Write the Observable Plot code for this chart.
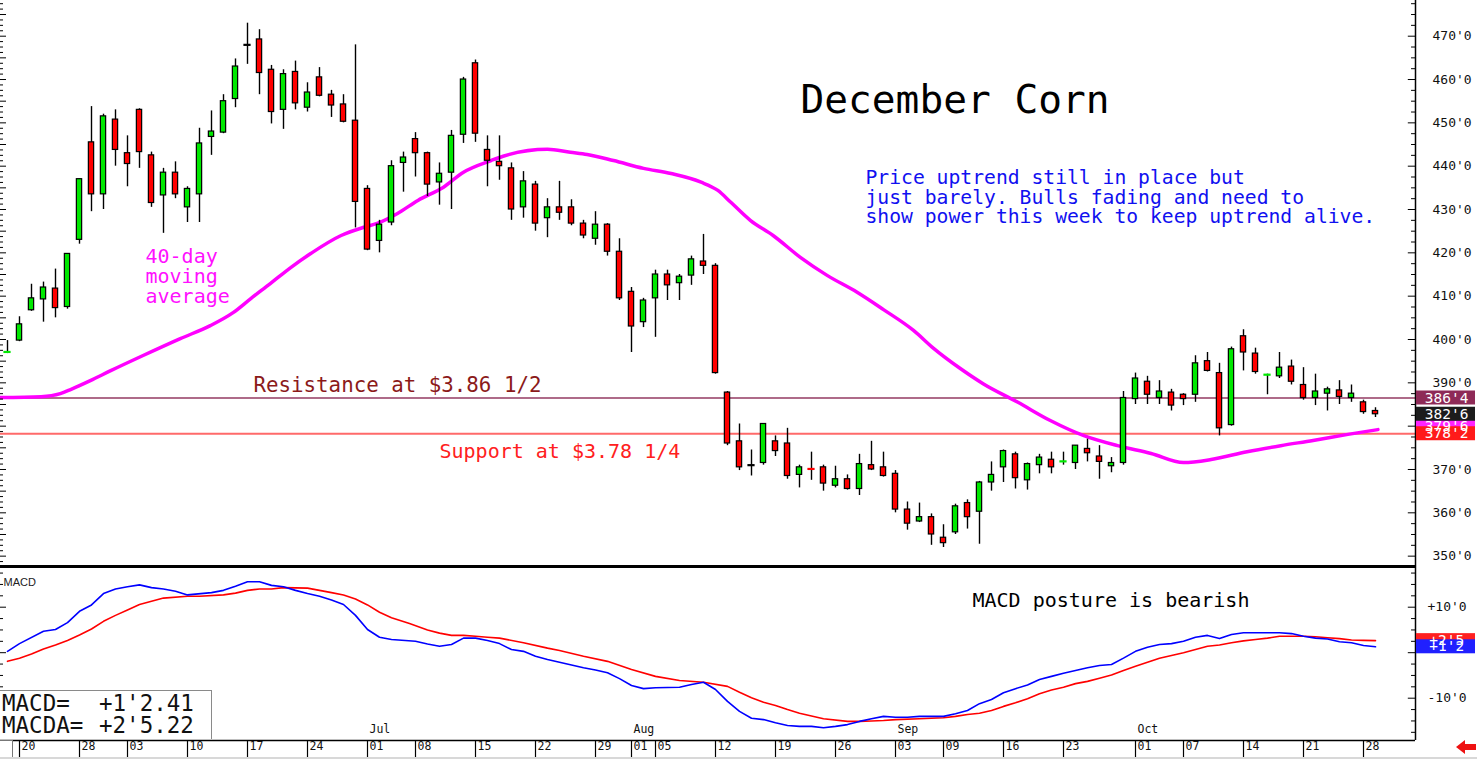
<!DOCTYPE html>
<html><head><meta charset="utf-8">
<script src="https://cdn.jsdelivr.net/npm/d3@7"></script>
<script src="https://cdn.jsdelivr.net/npm/@observablehq/plot@0.6"></script>
<style>
html,body{margin:0;padding:0;background:#fff;}
#wrap{position:relative;width:1477px;height:759px;overflow:hidden;background:#fff;}
#price{position:absolute;left:0;top:0;}
#macd{position:absolute;left:0;top:566px;}
.mbox{position:absolute;left:0;top:690px;width:211px;height:48px;border-top:1px solid #8a8a8a;border-right:1px solid #8a8a8a;background:#fff;font-family:"DejaVu Sans Mono",monospace;font-size:22.5px;line-height:22px;color:#111;}
.mbox span{position:absolute;white-space:pre;}
.sbox{position:absolute;left:0;top:740px;width:12px;height:16px;border:1px solid #777;border-left:none;background:#fff;}
.gline{position:absolute;left:0;top:757px;width:1477px;height:2px;background:#d8d8d8;}
.arrow{position:absolute;left:1456px;top:740px;width:20px;height:14px;}
.arrow .tri{position:absolute;left:0;top:0;width:0;height:0;border-top:7px solid transparent;border-bottom:7px solid transparent;border-right:9px solid #ee1111;}
.arrow .bar{position:absolute;left:8px;top:4px;width:12px;height:6px;background:#ee1111;}
</style></head>
<body>
<div id="wrap">
  <div id="price"></div>
  <div id="macd"></div>
  <div class="mbox"><span style="left:2px;top:1px">MACD=</span><span style="left:99px;top:1px">+1'2.41</span><span style="left:2px;top:23px">MACDA=</span><span style="left:99px;top:23px">+2'5.22</span></div>
  <div class="sbox"></div>
  <div class="gline"></div>
  <div class="arrow"><div class="tri"></div><div class="bar"></div></div>
</div>
<script>
// ---------- DATA (trading-day index 0 = May 17 ... 114 = Oct 29) ----------
const opens  = [397,399.75,406.75,409.25,411.75,407.5,423,445.5,433.5,450.75,443,453,442.5,433.25,438.5,430.5,433.5,446.75,447.75,455.5,468,469.25,462.25,453,461.75,453.5,460.5,456.5,454.25,450.5,434.75,422.75,427,440.75,446.25,443,436.25,438.5,447.25,463.75,443.75,441,439.5,430.5,435.75,428,430.5,430.5,426.75,423.25,426.5,420.25,411,404,409.5,415,413,414.75,418,417,387.75,376.5,371,371.5,376.5,376,368.75,370.25,370.5,366.25,367.75,365.5,371,370.5,369,360.75,358,359,354.25,355.5,362.25,360.25,367,370.5,373.5,367.5,371,372.25,371.75,371.5,374.75,373,370.75,371.5,386.25,390.25,386.5,387.75,387.25,387.25,395,392.25,380.25,400.75,396.75,391.75,391.5,393.75,389.5,386.5,387.5,388.25,386.5,385.5,383.5];
const highs  = [399.75,405.25,412.75,413.25,416.25,419.75,437,453.75,452,453,447,453.25,443.25,439.5,441,435.25,448.75,452.75,456.5,464.75,473,471.5,463.25,462.25,464.25,459.25,462.75,457.5,456.5,468,435.5,427.5,441.25,443.25,447.75,443.25,440.75,448.25,460.5,464.5,447,447,440.75,438.75,436.5,432.5,436.5,432.25,427.5,429.5,426.75,423.25,412,409.5,416,416,415,419.25,424.25,417.5,388,380.5,374.5,380.5,377.75,379.5,371,374,371,370.75,368.75,373.5,376.5,374,369.75,362.5,362.25,359.75,357.25,362,363,367.25,371.75,374.5,374,371.5,373.5,374,374,375.5,377,375.5,372.75,388,392.25,391.5,390.5,388.5,387.5,396.25,397,394.5,398.25,402.25,398,392,397,395.25,393.5,392,389,390.5,389.5,386,384.25];
const lows   = [396.75,399.5,406.5,404,405,407,422,429.5,430,440,435.25,439.5,430.5,424.5,432.5,427,427,442.5,447.5,453.5,463.5,456.5,449.75,448.5,453,452.5,456,451.25,450,425.75,420.5,420,426.25,434,437.5,433,431,430,445.25,445.5,435.25,436.75,427.5,428,425,423.5,427.5,426.25,423.25,421.75,419.25,409,397,402.75,400.5,409,409,412.5,415,392,375.5,369.75,368.5,371,373,367.75,365.75,367.5,365,365.75,365.25,364,369.75,368.25,360,356,357.75,352.5,352,355,356.25,352.75,365,367,365.5,365.25,369,369,371,370,371.75,367.75,369.25,371,385,385,385,383.5,384.75,385.5,392.5,377.75,380,392.75,392,387.25,391,389.5,386,384.75,383.5,385,385.5,382.75,382];
const closes = [397.25,403.5,409.5,412,407.25,419.75,437,433.5,451.5,443.75,440.5,443.25,431.5,438.5,433.5,434.75,445.25,448,455,463,468,461.5,452.5,461.25,454.5,457,456.25,454,450.25,431.75,420.75,426.5,440,442,443,435.75,438.25,447,460,447.5,441.25,440,430,436.5,426.75,430.5,429.25,426.75,424,426.5,420.25,409.5,403,409,415,412.5,414.5,418.5,417,392.25,376,370.5,371,380.5,374.25,368.5,370.5,370,366.75,367.75,365.5,371.25,370,368.5,360.75,357.5,359,355,353,361.5,359,367,368.75,374.25,368,371.25,372.75,370.5,372,375.5,373.75,371.75,371.5,386.5,391,387.25,388,384.75,386.25,394.5,392.75,379.5,397.75,397,392.5,392,393.5,390.25,386.5,388,388.5,386.75,387.5,383.25,382.75];

// 40-day moving average, read as [index, price]
const ma40 = [[-0.6,386.6],[2.8,386.8],[4.4,387.5],[5.3,388.5],[6.9,390.5],[8.6,392.8],[11.3,396.3],[14.4,400.2],[16.9,403.2],[18.8,406.2],[20.3,409.5],[21.9,412.9],[23.6,416.6],[25.3,419.9],[27.8,424],[29.7,425.9],[30.8,426.8],[32.5,429.1],[34.2,432.1],[36.3,435.1],[38,438.6],[40.3,441.3],[41.3,442.3],[45,443.9],[46.9,443.2],[48.3,442.7],[50.5,441.3],[53,439.5],[55.3,438.3],[57.8,436.3],[59.2,434.4],[60.3,431.6],[61.9,427.5],[63.8,424],[66.1,418.9],[68.3,414.8],[70.8,410.9],[73,406.9],[75.5,402.1],[77.2,397.9],[79.4,393.3],[81.3,389.8],[84.2,385.5],[86.9,381.3],[89.7,377.8],[92.5,375.5],[95.3,373.7],[98,371.6],[100.3,372.3],[103.3,374.1],[106.1,375.5],[108.8,376.7],[111.7,378.1],[114.2,379.2]];

// MACD (blue) and MACDA signal (red), read as [index, cents]
const macdLine = [[0,0.3],[1,2.0],[3,4.7],[4,5.1],[5,6.6],[6,9.1],[7,10.5],[8,13.0],[9,14.0],[10,14.5],[11,14.9],[12,14.3],[13,14.0],[14,13.5],[15,12.7],[17,13.2],[18,13.7],[19,14.6],[20,15.6],[21,15.6],[22,14.8],[23,14.5],[24,13.7],[25,13.0],[26,12.4],[27,11.6],[28,10.6],[29,8.2],[30,5.1],[31,3.4],[32,2.9],[34,2.5],[35,1.9],[36,1.4],[37,1.8],[38,3.2],[39,3.2],[40,2.7],[41,2.0],[42,0.7],[43,0.3],[44,-0.8],[45,-1.5],[46,-2.1],[47,-2.7],[48,-3.3],[49,-3.8],[50,-4.4],[51,-5.7],[52,-7.2],[53,-7.9],[54,-7.7],[56,-7.6],[57,-7.0],[58,-6.5],[59,-8.1],[60,-10.7],[61,-12.9],[62,-14.4],[63,-14.7],[64,-15.4],[65,-16.0],[66,-16.2],[67,-16.2],[68,-16.5],[69,-16.2],[70,-15.8],[71,-15.1],[72,-14.5],[73,-14.0],[74,-14.2],[75,-14.2],[76,-14.0],[78,-14.0],[79,-13.4],[80,-12.7],[81,-11.2],[82,-10.3],[83,-8.8],[84,-7.9],[85,-7.1],[86,-5.9],[87,-5.2],[88,-4.5],[89,-3.9],[90,-3.3],[91,-2.8],[92,-2.6],[93,-1.2],[94,0.3],[95,1.2],[96,1.8],[97,2.0],[98,2.5],[99,3.4],[100,3.8],[101,3.1],[102,4.0],[103,4.4],[104,4.4],[106,4.4],[107,4.2],[108,3.6],[109,3.2],[110,3.0],[111,2.4],[112,2.2],[113,1.6],[114,1.3]];
const signalLine = [[0,-1.9],[1,-1.2],[2,-0.3],[3,0.8],[4,1.7],[5,2.7],[6,3.9],[7,5.2],[8,6.9],[9,8.2],[10,9.4],[11,10.6],[12,11.3],[13,12.0],[15,12.4],[16,12.4],[18,12.7],[19,13.1],[20,13.7],[21,14.0],[22,14.0],[23,14.3],[25,14.2],[26,13.7],[27,13.2],[28,12.7],[29,11.8],[30,10.5],[31,8.9],[32,7.7],[33.5,6.4],[35,5.0],[36,4.3],[37,3.8],[38,3.8],[39,3.6],[40,3.4],[41,3.2],[43,2.2],[45,1.0],[46,0.5],[48,-0.8],[50,-1.9],[52,-3.7],[54,-5.2],[56,-6.1],[58,-6.5],[60,-7.4],[61,-8.7],[62,-9.9],[63,-10.9],[64,-11.6],[65,-12.5],[66,-13.3],[68,-14.5],[70,-15.1],[71,-15.1],[72,-15.0],[73,-14.9],[74,-14.7],[76,-14.5],[78,-14.3],[79,-14.0],[80,-13.6],[81,-13.3],[82,-12.7],[83,-11.8],[84,-11.0],[85,-10.1],[86,-9.0],[87,-8.2],[88,-7.6],[89,-6.8],[90,-6.3],[91,-5.6],[92,-4.9],[93,-3.9],[94,-3.0],[95,-2.1],[96,-1.2],[97,-0.6],[98,0.0],[99,0.7],[100,1.4],[101,1.7],[102,2.2],[103,2.6],[104,2.9],[105,3.2],[106,3.6],[107,3.6],[108,3.6],[109,3.5],[110,3.3],[111,3.1],[112,2.8],[113,2.7],[114,2.65]];

const resistance = 386.5;
const support = 378.25;
const lastClose = 382.75;
const lastMA = 380.0;
const lastMacd = 1.3;
const lastSignal = 2.65;

const priceTicks = [350,360,370,380,390,400,410,420,430,440,450,460,470];
const macdTicks = [10,-10];
const dateTickIdx = [1,6,10,15,20,25,30,34,39,44,49,52,54,59,64,69,74,78,83,88,94,98,103,108,113];
const dateTickLbl = ["20","28","03","10","17","24","01","08","15","22","29","01","05","12","19","26","03","09","16","23","01","07","14","21","28"];
const monthIdx = [30,52,74,94];
const monthLbl = ["Jul","Aug","Sep","Oct"];

// ---------- LAYOUT ----------
const W = 1477, PLOT_R = 1415;
const pxPerDay = 12, firstX = 7;
const xMin = (0 - firstX) / pxPerDay, xMax = (PLOT_R - firstX) / pxPerDay;
const pxPerCent = 4.333;
const PH = 566;
const yTop = 400 + 339 / pxPerCent, yBot = 400 - (PH - 339) / pxPerCent;
const MH = 193, MB = 19, mPx = 4.55, mZero = 86.2;
const mTop = mZero / mPx, mBot = (mZero - (MH - MB)) / mPx;

const GREEN = "#00e800", RED = "#ff0000", MONO = "DejaVu Sans Mono";

const candles = opens.map((o, i) => ({i, o, h: highs[i], l: lows[i], c: closes[i]}));
const bodies = candles.filter(d => Math.abs(d.c - d.o) > 0.3);
const dashes = candles.filter(d => Math.abs(d.c - d.o) <= 0.3);

const priceTags = [
  {v: lastMA, label: "379'6", bg: "#ff22ff"},
  {v: lastClose, label: "382'6", bg: "#1c1c1c"},
  {v: resistance, label: "386'4", bg: "#8e2a57"},
  {v: support, label: "378'2", bg: "#ff1a1a"}
];
const tagH = 7 / pxPerCent;

const price = Plot.plot({
  width: W, height: PH,
  marginLeft: 0, marginRight: W - PLOT_R, marginTop: 0, marginBottom: 0,
  x: {domain: [xMin, xMax], axis: null},
  y: {domain: [yBot, yTop], label: null},
  color: {type: "identity"},
  style: {fontFamily: MONO, background: "transparent", overflow: "visible"},
  marks: [
    Plot.ruleY([resistance], {stroke: "#933a62", strokeWidth: 1.3}),
    Plot.ruleY([support], {stroke: "#ff6a6a", strokeWidth: 2}),
    Plot.line(ma40, {x: d => d[0], y: d => d[1], stroke: "#ff00ff", strokeWidth: 3.5, curve: "monotone-x"}),
    Plot.ruleX(candles, {x: "i", y1: "l", y2: "h", stroke: "#000", strokeWidth: 1.4}),
    Plot.rect(bodies, {x1: d => d.i - 0.22, x2: d => d.i + 0.22, y1: "o", y2: "c", fill: d => d.c > d.o ? GREEN : RED, stroke: "#000", strokeWidth: 1.2}),
    Plot.ruleY(dashes, {y: d => (d.o + d.c) / 2, x1: d => d.i - 0.3, x2: d => d.i + 0.3, stroke: d => d.c > d.o ? GREEN : d.c < d.o ? RED : "#000", strokeWidth: 2.2}),
    // axes decoration
    Plot.ruleX([xMax], {stroke: "#000", strokeWidth: 1.5}),
    Plot.ruleY(d3.range(350, 478, 2.5), {x1: d => xMax - (d % 10 === 0 ? 0.6 : 0.33), x2: xMax, stroke: "#000", strokeWidth: 1}),
    Plot.ruleY(d3.range(348.75, 478, 1.25), {x1: xMin, x2: d => xMin + (d % 5 === 0 ? 0.5 : 0.25), stroke: "#000", strokeWidth: 1}),
    Plot.axisY(priceTicks, {anchor: "right", label: null, tickSize: 0, tickPadding: 17, tickFormat: d => d + "'0", fontSize: 13, color: "#111", fontFamily: MONO}),
    // right tags
    Plot.rect(priceTags, {x1: xMax + 0.08, x2: xMax + 5, y1: d => d.v - tagH, y2: d => d.v + tagH, fill: "bg"}),
    Plot.text(priceTags, {x: xMax + 2.6, y: "v", text: "label", fill: "#fff", fontSize: 14.5, fontFamily: MONO}),
    // annotations
    Plot.text(["December Corn"], {text: d => d, frameAnchor: "top-left", dx: 800, dy: 84, lineAnchor: "top", textAnchor: "start", fontSize: 39.5, fontFamily: MONO, fill: "#000"}),
    Plot.text(["Price uptrend still in place but\njust barely. Bulls fading and need to\nshow power this week to keep uptrend alive."], {text: d => d, frameAnchor: "top-left", dx: 865, dy: 169.5, lineAnchor: "top", lineHeight: 1.0, textAnchor: "start", fontSize: 19.7, fontFamily: MONO, fill: "#1010f0"}),
    Plot.text(["40-day\nmoving\naverage"], {text: d => d, frameAnchor: "top-left", dx: 145, dy: 248, lineAnchor: "top", lineHeight: 1.0, textAnchor: "start", fontSize: 20, fontFamily: MONO, fill: "#ff10ff"}),
    Plot.text(["Resistance at $3.86 1/2"], {text: d => d, frameAnchor: "top-left", dx: 253, dy: 377, lineAnchor: "top", textAnchor: "start", fontSize: 20.8, fontFamily: MONO, fill: "#8b1a1a"}),
    Plot.text(["Support at $3.78 1/4"], {text: d => d, frameAnchor: "top-left", dx: 439, dy: 443, lineAnchor: "top", textAnchor: "start", fontSize: 20, fontFamily: MONO, fill: "#ff2020"})
  ]
});
document.getElementById("price").append(price);

const macdTags = [
  {v: lastSignal, label: "+2'5", bg: "#ff2020"},
  {v: lastMacd, label: "+1'2", bg: "#2020ff"}
];
const mTagH = 7 / mPx;

const macd = Plot.plot({
  width: W, height: MH,
  marginLeft: 0, marginRight: W - PLOT_R, marginTop: 0, marginBottom: MB,
  x: {domain: [xMin, xMax], label: null},
  y: {domain: [mBot, mTop], label: null},
  color: {type: "identity"},
  style: {fontFamily: MONO, background: "transparent", overflow: "visible"},
  marks: [
    Plot.ruleY([mTop], {stroke: "#000", strokeWidth: 3}),
    Plot.ruleY([mBot], {stroke: "#000", strokeWidth: 1.5}),
    Plot.ruleX([xMax], {stroke: "#000", strokeWidth: 1.5}),
    Plot.ruleY(d3.range(-17.5, 18, 2.5), {x1: d => xMax - (d % 10 === 0 ? 0.6 : 0.33), x2: xMax, stroke: "#000", strokeWidth: 1}),
    Plot.ruleY(d3.range(-7.5, 18, 2.5), {x1: xMin, x2: d => xMin + (d % 10 === 0 ? 0.5 : 0.25), stroke: "#000", strokeWidth: 1}),
    Plot.line(signalLine, {x: d => d[0], y: d => d[1], stroke: "#ff0000", strokeWidth: 1.6}),
    Plot.line(macdLine, {x: d => d[0], y: d => d[1], stroke: "#0000ff", strokeWidth: 1.6}),
    Plot.axisY(macdTicks, {anchor: "right", label: null, tickSize: 0, tickPadding: 12, tickFormat: d => (d > 0 ? "+" : "-") + Math.abs(d) + "'0", fontSize: 13, color: "#111", fontFamily: MONO}),
    Plot.rect(macdTags, {x1: xMax + 0.08, x2: xMax + 5, y1: d => d.v - mTagH, y2: d => d.v + mTagH, fill: "bg"}),
    Plot.text(macdTags, {x: xMax + 2.6, y: "v", text: "label", fill: "#fff", fontSize: 14.5, fontFamily: MONO}),
    Plot.axisX(dateTickIdx, {anchor: "bottom", label: null, tickSize: 17, tickFormat: () => "", stroke: "#000", strokeWidth: 1.2}),
    Plot.text(dateTickIdx, {x: d => d, text: (d, i) => dateTickLbl[i], frameAnchor: "bottom", dy: 9, dx: 2, textAnchor: "start", fontSize: 11.5, fontFamily: MONO, fill: "#111"}),
    Plot.text(monthIdx, {x: d => d, text: (d, i) => monthLbl[i], frameAnchor: "bottom", dy: -8, dx: 2, textAnchor: "start", fontSize: 11.5, fontFamily: MONO, fill: "#111"}),
    Plot.text(["MACD"], {text: d => d, frameAnchor: "top-left", dx: 3, dy: 12, textAnchor: "start", fontSize: 11, fontFamily: "Liberation Sans", fill: "#222"}),
    Plot.text(["MACD posture is bearish"], {text: d => d, frameAnchor: "top-left", dx: 972, dy: 26, lineAnchor: "top", textAnchor: "start", fontSize: 20, fontFamily: MONO, fill: "#000"})
  ]
});
document.getElementById("macd").append(macd);
</script>
</body></html>
